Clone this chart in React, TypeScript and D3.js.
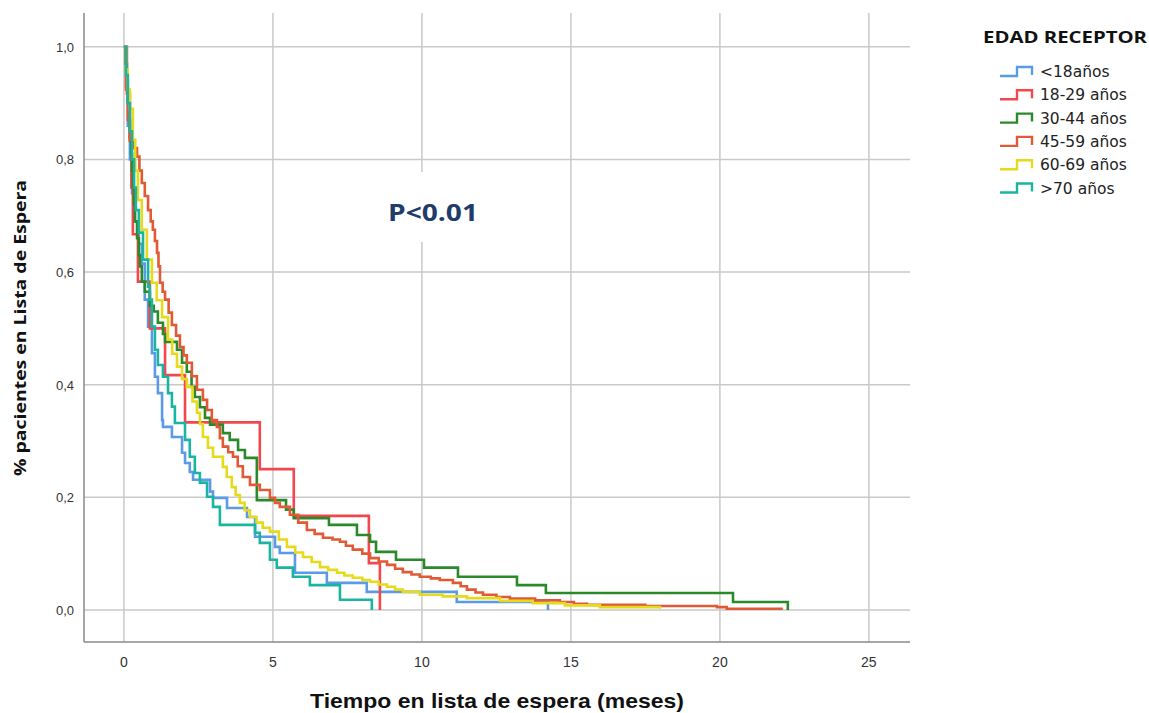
import React from "react";
import * as d3 from "d3";

type Pt = [number, number];

const xTicks = [0, 5, 10, 15, 20, 25];
const yTicks = [0, 0.2, 0.4, 0.6, 0.8, 1.0];

const seriesNames = ["<18años", "18-29 años", "30-44 años", "45-59 años", "60-69 años", ">70 años"];
const seriesColors = ["#5b9be6", "#f2474c", "#2a8a2a", "#e05a35", "#e6da1c", "#1ab5a2"];

const blue: Pt[] = [
  [0, 1], [0.07, 0.93], [0.13, 0.86], [0.2, 0.8], [0.27, 0.74], [0.37, 0.69], [0.5, 0.65], [0.6, 0.615],
  [0.7, 0.551], [0.81, 0.503], [0.94, 0.456], [1.04, 0.414], [1.14, 0.385], [1.28, 0.337], [1.31, 0.325],
  [1.61, 0.307], [1.95, 0.279], [2.05, 0.261], [2.21, 0.245], [2.32, 0.231], [2.89, 0.21], [2.99, 0.199],
  [3.46, 0.181], [4.13, 0.165], [4.4, 0.13], [5.07, 0.112], [5.23, 0.101], [5.74, 0.066], [6.81, 0.048],
  [8.15, 0.032], [11.17, 0.014], [14.23, 0],
];

const red: Pt[] = [
  [0, 1], [0.1, 0.917], [0.2, 0.833], [0.25, 0.75], [0.3, 0.667], [0.47, 0.583], [0.87, 0.5],
  [1.38, 0.417], [2.05, 0.333], [4.56, 0.25], [5.7, 0.167], [8.22, 0.083], [8.59, 0],
];

const green: Pt[] = [
  [0, 1], [0.05, 0.97], [0.1, 0.94], [0.13, 0.9], [0.17, 0.87], [0.2, 0.84], [0.24, 0.81], [0.27, 0.78],
  [0.3, 0.75], [0.34, 0.72], [0.37, 0.69], [0.44, 0.66], [0.5, 0.63], [0.54, 0.61], [0.6, 0.583],
  [0.7, 0.565], [0.87, 0.54], [1.0, 0.53], [1.14, 0.51], [1.31, 0.49], [1.38, 0.476], [1.78, 0.462],
  [1.95, 0.439], [2.11, 0.423], [2.27, 0.396], [2.38, 0.378], [2.55, 0.36], [2.72, 0.341], [2.89, 0.329],
  [3.32, 0.314], [3.55, 0.302], [3.83, 0.284], [4.06, 0.27], [4.46, 0.195], [5.44, 0.178], [5.7, 0.163],
  [6.88, 0.151], [7.82, 0.133], [8.26, 0.121], [8.46, 0.103], [9.13, 0.089], [10.07, 0.075], [11.21, 0.059],
  [13.19, 0.044], [14.16, 0.03], [20.44, 0.014], [22.28, 0],
];

const orange: Pt[] = [
  [0, 1], [0.07, 0.924], [0.13, 0.87], [0.2, 0.835], [0.3, 0.82], [0.44, 0.805], [0.52, 0.78], [0.6, 0.758],
  [0.7, 0.735], [0.81, 0.71], [0.9, 0.69], [0.97, 0.675], [1.04, 0.655], [1.11, 0.634], [1.16, 0.61],
  [1.21, 0.581], [1.3, 0.565], [1.38, 0.551], [1.5, 0.528], [1.61, 0.506], [1.75, 0.487], [1.88, 0.467],
  [2.0, 0.452], [2.11, 0.439], [2.28, 0.415], [2.45, 0.391], [2.65, 0.373], [2.79, 0.355], [2.95, 0.337],
  [3.12, 0.325], [3.22, 0.305], [3.32, 0.29], [3.5, 0.28], [3.66, 0.272], [3.82, 0.255], [3.99, 0.236],
  [4.23, 0.222], [4.56, 0.213], [4.9, 0.199], [5.07, 0.19], [5.23, 0.183], [5.57, 0.169], [5.85, 0.155],
  [6.14, 0.142], [6.4, 0.135], [6.68, 0.128], [7.0, 0.125], [7.25, 0.121], [7.45, 0.114], [7.68, 0.107],
  [8.0, 0.1], [8.26, 0.092], [8.55, 0.086], [8.83, 0.08], [9.1, 0.073], [9.36, 0.067], [9.65, 0.063],
  [9.93, 0.059], [10.3, 0.056], [10.6, 0.053], [11.04, 0.048], [11.3, 0.042], [11.51, 0.036], [11.8, 0.031],
  [12.05, 0.027], [12.5, 0.023], [12.95, 0.02], [13.8, 0.017], [14.63, 0.014], [15.1, 0.011],
  [15.54, 0.009], [17.5, 0.007], [19.9, 0.005], [20.23, 0.002], [22.11, 0.002],
];

const yellow: Pt[] = [
  [0, 1], [0.07, 0.96], [0.13, 0.924], [0.2, 0.89], [0.3, 0.835], [0.38, 0.78], [0.47, 0.728],
  [0.6, 0.675], [0.77, 0.622], [0.94, 0.581], [1.1, 0.55], [1.28, 0.52], [1.48, 0.48], [1.62, 0.455],
  [1.78, 0.432], [1.95, 0.41], [2.11, 0.396], [2.3, 0.37], [2.45, 0.35], [2.55, 0.33], [2.65, 0.307],
  [2.82, 0.288], [2.99, 0.272], [3.32, 0.254], [3.45, 0.236], [3.62, 0.218], [3.75, 0.204], [3.89, 0.19],
  [4.05, 0.177], [4.23, 0.165], [4.45, 0.155], [4.66, 0.146], [4.9, 0.139], [5.2, 0.125], [5.47, 0.112],
  [5.75, 0.102], [6.01, 0.094], [6.3, 0.085], [6.58, 0.076], [6.85, 0.071], [7.15, 0.066], [7.4, 0.061],
  [7.68, 0.057], [8.0, 0.053], [8.26, 0.05], [8.55, 0.045], [8.83, 0.041], [9.1, 0.036], [9.36, 0.032],
  [9.93, 0.027], [10.7, 0.024], [11.51, 0.021], [12.62, 0.016], [13.72, 0.012], [14.8, 0.008],
  [15.97, 0.005], [17.99, 0.002],
];

const teal: Pt[] = [
  [0, 1], [0.07, 0.95], [0.13, 0.9], [0.2, 0.85], [0.27, 0.8], [0.34, 0.75], [0.4, 0.71], [0.5, 0.67],
  [0.64, 0.622], [0.81, 0.574], [0.87, 0.551], [0.94, 0.503], [1.04, 0.462], [1.14, 0.435], [1.31, 0.414],
  [1.48, 0.385], [1.61, 0.361], [1.71, 0.332], [2.05, 0.302], [2.21, 0.272], [2.38, 0.243], [2.55, 0.226],
  [2.79, 0.201], [2.99, 0.183], [3.22, 0.151], [4.4, 0.137], [4.56, 0.119], [4.9, 0.089], [5.13, 0.075],
  [5.67, 0.059], [6.24, 0.044], [7.25, 0.018], [8.32, 0],
];

const allSeries: Pt[][] = [blue, red, green, orange, yellow, teal];

const W = 1149;
const H = 713;
const plotLeft = 84;
const plotRight = 910;
const plotTop = 13;
const plotBottom = 642;

const xScale = d3.scaleLinear().domain([-1.34, 26.38]).range([plotLeft, plotRight]);
const yScale = d3.scaleLinear().domain([-0.057, 1.06]).range([plotBottom, plotTop]);

const line = d3
  .line<Pt>()
  .x((d) => xScale(d[0]))
  .y((d) => yScale(d[1]))
  .curve(d3.curveStepAfter);

const fmtY = (v: number) => d3.format(".1f")(v).replace(".", ",");

export default function App() {
  const gridColor = "#c9c9c9";
  return (
    <svg
      width={W}
      height={H}
      style={{ position: "absolute", left: 0, top: 0, background: "#fff" }}
    >
      <rect x={0} y={0} width={W} height={H} fill="#fff" />
      {xTicks.map((t) => (
        <line key={"gx" + t} x1={xScale(t)} x2={xScale(t)} y1={plotTop} y2={plotBottom} stroke={gridColor} strokeWidth={1.5} />
      ))}
      {yTicks.map((t) => (
        <line key={"gy" + t} x1={plotLeft} x2={plotRight} y1={yScale(t)} y2={yScale(t)} stroke={gridColor} strokeWidth={1.5} />
      ))}
      <line x1={plotLeft} x2={plotLeft} y1={plotTop} y2={plotBottom} stroke="#8a8a8a" strokeWidth={1.5} />
      <line x1={plotLeft} x2={plotRight} y1={plotBottom} y2={plotBottom} stroke="#8a8a8a" strokeWidth={1.5} />

      <rect x={380} y={172} width={105} height={70} fill="#fff" />
      <text
        x={433}
        y={221}
        textAnchor="middle"
        fontFamily="'Open Sans', sans-serif"
        fontWeight="bold"
        fontSize={24}
        fill="#1f3c6d"
        textLength={90}
        lengthAdjust="spacingAndGlyphs"
      >
        P&lt;0.01
      </text>

      {allSeries.map((s, i) => (
        <path key={"s" + i} d={line(s) || ""} fill="none" stroke={seriesColors[i]} strokeWidth={2.6} strokeLinejoin="miter" />
      ))}

      {xTicks.map((t) => (
        <text
          key={"tx" + t}
          x={xScale(t)}
          y={667}
          textAnchor="middle"
          fontFamily="'Liberation Sans Narrow', 'Liberation Sans', Arial, sans-serif"
          fontSize={14}
          fill="#333"
        >
          {t}
        </text>
      ))}
      {yTicks.map((t) => (
        <text
          key={"ty" + t}
          x={74}
          y={yScale(t) + 5}
          textAnchor="end"
          fontFamily="'Liberation Sans', Arial, sans-serif"
          fontSize={13}
          fill="#333"
        >
          {fmtY(t)}
        </text>
      ))}

      <text
        x={497}
        y={708}
        textAnchor="middle"
        fontFamily="'Liberation Sans Narrow', 'Liberation Sans', Arial, sans-serif"
        fontWeight="bold"
        fontSize={21}
        fill="#111"
        textLength={374}
        lengthAdjust="spacingAndGlyphs"
      >
        Tiempo en lista de espera (meses)
      </text>
      <text
        transform={`translate(26,328) rotate(-90)`}
        textAnchor="middle"
        fontFamily="'Open Sans', sans-serif"
        fontWeight="bold"
        fontSize={16}
        fill="#111"
        textLength={296}
        lengthAdjust="spacingAndGlyphs"
      >
        % pacientes en Lista de Espera
      </text>

      <text
        x={983}
        y={43}
        fontFamily="'Open Sans', sans-serif"
        fontWeight="bold"
        fontSize={16}
        fill="#111"
        textLength={164}
        lengthAdjust="spacingAndGlyphs"
      >
        EDAD RECEPTOR
      </text>
      {seriesNames.map((name, i) => {
        const cy = 72 + i * 23.3;
        return (
          <g key={"lg" + i}>
            <path
              d={`M1000,${cy + 4} H1017 V${cy - 5} H1032 V${cy + 3}`}
              fill="none"
              stroke={seriesColors[i]}
              strokeWidth={2.4}
            />
            <text
              x={1040}
              y={cy + 5}
              fontFamily="'DejaVu Sans', sans-serif"
              fontSize={15.5}
              fill="#222"
            >
              {name}
            </text>
          </g>
        );
      })}
    </svg>
  );
}
